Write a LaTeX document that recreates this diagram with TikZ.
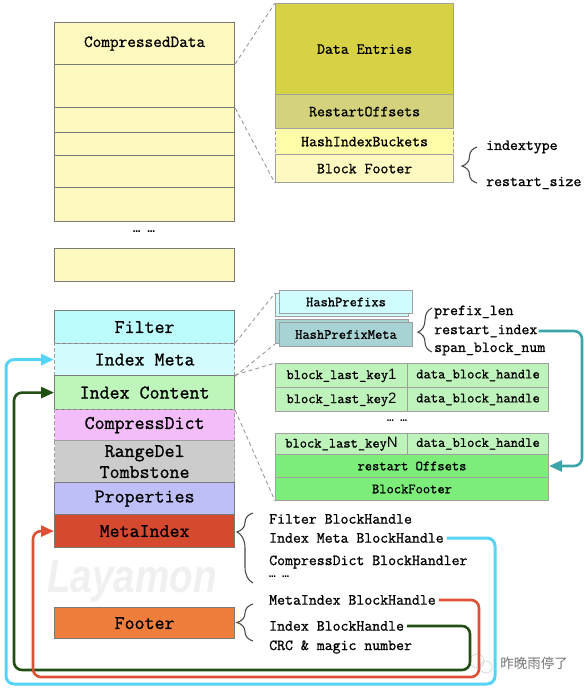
\documentclass[tikz,border=0pt]{standalone}
\usepackage{fontspec}
\setmainfont{Latin Modern Mono}
\newfontfamily\mono{Latin Modern Mono}[FakeBold=1.0]
\newfontfamily\lmono{Liberation Mono}
\newfontfamily\wsans{Liberation Sans}
\newfontfamily\cjk{Noto Sans CJK SC}
\usetikzlibrary{arrows.meta,decorations.pathreplacing}
\definecolor{cCD}{HTML}{FDF9BF}
\definecolor{cDE}{HTML}{D7D245}
\definecolor{cRO}{HTML}{D4D27C}
\definecolor{cHIB}{HTML}{FEFBA9}
\definecolor{cBF}{HTML}{FDF9C0}
\definecolor{cHP}{HTML}{CFFCFD}
\definecolor{cHPM}{HTML}{A8D3D5}
\definecolor{cKey}{HTML}{BFF3BC}
\definecolor{cRSO}{HTML}{7DED7A}
\definecolor{cFilter}{HTML}{BDFCFC}
\definecolor{cIM}{HTML}{D2FCFD}
\definecolor{cIC}{HTML}{BDF5BB}
\definecolor{cDict}{HTML}{F2BDF8}
\definecolor{cRD}{HTML}{CCCCCC}
\definecolor{cProp}{HTML}{BFBFF8}
\definecolor{cMI}{HTML}{D54A2F}
\definecolor{cFoot}{HTML}{EF7D3B}
\definecolor{lCyan}{HTML}{57D3F6}
\definecolor{lRed}{HTML}{DD5236}
\definecolor{lGreen}{HTML}{214E13}
\definecolor{lTeal}{HTML}{3DA5AA}
\definecolor{bDark}{HTML}{7A7A7A}
\definecolor{bLight}{HTML}{A0A0A0}
\definecolor{guide}{HTML}{9A9A9A}
\begin{document}
\begin{tikzpicture}[x=1pt,y=-1pt,
  lbox/.style={draw=bDark, line width=1.2pt, inner sep=0pt, anchor=north west,
    minimum width=180pt, font=\mono\fontsize{19.4}{21}\selectfont, align=center},
  cdbox/.style={draw=bDark, line width=1.2pt, inner sep=0pt, anchor=north west,
    minimum width=180pt, fill=cCD, font=\mono\fontsize{16.8}{18}\selectfont},
  tbox/.style={draw=bLight, line width=1.2pt, inner sep=0pt, anchor=north west,
    minimum width=178pt, font=\mono\fontsize{15.4}{17}\selectfont},
  mbox/.style={draw=bLight, line width=1pt, inner sep=0pt, anchor=north west,
    font=\mono\fontsize{14.1}{15}\selectfont},
  dashbox/.style={dashed, dash pattern=on 4pt off 2pt},
  lbl/.style={anchor=west, inner sep=3pt, font=\mono\fontsize{15.4}{17}\selectfont},
  slbl/.style={anchor=west, inner sep=1pt, font=\mono\fontsize{15.4}{17}\selectfont},
  guideline/.style={draw=guide, line width=0.9pt, dash pattern=on 4pt off 3pt},
  bracestyle/.style={draw=black!70, line width=1.1pt, decorate},
  conn/.style={line width=2.6pt, rounded corners=8pt},
  tip/.style={-{Triangle[length=13pt,width=11pt]}}
]
\useasboundingbox (0,0) rectangle (587,690);
% watermarks
\node[text=black!6, font=\wsans\bfseries\itshape\fontsize{47}{50}\selectfont, xscale=0.82] (wm) at (132,581) {Layamon};
\node[text=black!55, font=\cjk\fontsize{13.5}{15}\selectfont] (wm2) at (534,663) {昨晚雨停了};
\draw[black!15, line width=0.8pt] (477,661) circle (7pt) (486,667) circle (6pt);

% top-left column
\node[cdbox, minimum height=42pt] (cd0) at (54,22) {CompressedData};
\node[cdbox, minimum height=43pt] (cd1) at (54,64) {};
\node[cdbox, minimum height=25pt] (cd2) at (54,107) {};
\node[cdbox, minimum height=23pt] (cd3) at (54,132) {};
\node[cdbox, minimum height=32pt] (cd4) at (54,155) {};
\node[cdbox, minimum height=34pt] (cd5) at (54,187) {};
\node[font=\lmono\bfseries\fontsize{12}{14}\selectfont] (dots1) at (144,232) {… …};
\node[cdbox, minimum height=33pt] (cd6) at (54,248) {};

% top-right block
\node[tbox, fill=cDE, minimum height=91pt] (de) at (275,3) {Data Entries};
\node[tbox, fill=cRO, minimum height=34pt] (ro) at (275,94) {RestartOffsets};
\node[tbox, dashbox, fill=cHIB, minimum height=26pt] (hib) at (275,128) {HashIndexBuckets};
\node[tbox, fill=cBF, minimum height=28pt] (bft) at (275,154) {Block Footer};
\draw[guideline] (cd1.north east) -- (de.north west);
\draw[guideline] (cd1.south east) -- (bft.south west);
\draw[bracestyle, decoration={brace, amplitude=15pt, aspect=0.47}] (477,183) -- (477,147);
\node[slbl] (itype) at (485,147) {indextype};
\node[slbl] (rsize) at (485,183) {restart\_size};

% lower-left column
\node[lbox, fill=cFilter, minimum height=33pt] (filter) at (54,310) {Filter};
\node[lbox, dashbox, draw=bLight, fill=cIM, minimum height=32pt] (imeta) at (54,343) {Index Meta};
\node[lbox, fill=cIC, minimum height=34pt] (icont) at (54,375) {Index Content};
\node[lbox, dashbox, draw=bLight, fill=cDict, minimum height=31pt] (cdict) at (54,409) {CompressDict};
\node[lbox, dashbox, draw=bLight, fill=cRD, minimum height=42pt] (rdel) at (54,440) {RangeDel\\Tombstone};
\node[lbox, fill=cProp, minimum height=32pt] (props) at (54,482) {Properties};
\node[lbox, fill=cMI, minimum height=33pt] (mindex) at (54,514) {MetaIndex};
\node[lbox, fill=cFoot, minimum height=31pt] (footer) at (54,607) {Footer};

% middle-right block
\node[mbox, fill=cHP, minimum width=133pt, minimum height=23pt] (hpb) at (275,293) {};
\node[mbox, fill=cHP, minimum width=133pt, minimum height=23pt] (hp) at (279,290) {HashPrefixs};
\node[mbox, fill=cHPM, minimum width=133pt, minimum height=24pt] (hpmb) at (275,319) {};
\node[mbox, fill=cHPM, minimum width=133pt, minimum height=24pt] (hpm) at (279,322) {HashPrefixMeta};
\draw[bracestyle, decoration={brace, amplitude=14pt, aspect=0.45}] (432,352) -- (432,308);
\node[slbl] (plen) at (433,312) {prefix\_len};
\node[slbl] (rsi) at (433,331) {restart\_index};
\node[slbl] (sbn) at (433,349) {span\_block\_num};

\node[mbox, fill=cKey, minimum width=132pt, minimum height=24pt] (k1) at (275,363) {block\_last\_key{\wsans\fontsize{15}{15}\selectfont 1}};
\node[mbox, fill=cKey, minimum width=141pt, minimum height=24pt] (d1) at (407,363) {data\_block\_handle};
\node[mbox, fill=cKey, minimum width=132pt, minimum height=24pt] (k2) at (275,387) {block\_last\_key{\wsans\fontsize{15}{15}\selectfont 2}};
\node[mbox, fill=cKey, minimum width=141pt, minimum height=24pt] (d2) at (407,387) {data\_block\_handle};
\node[font=\lmono\bfseries\fontsize{11}{13}\selectfont] (dots2) at (397,421) {… …};
\node[mbox, fill=cKey, minimum width=132pt, minimum height=21pt] (kN) at (275,433) {block\_last\_key{\wsans\fontsize{15}{15}\selectfont N}};
\node[mbox, fill=cKey, minimum width=141pt, minimum height=21pt] (dN) at (407,433) {data\_block\_handle};
\node[mbox, fill=cRSO, minimum width=273pt, minimum height=23pt] (rso) at (275,454) {restart Offsets};
\node[mbox, fill=cRSO, minimum width=273pt, minimum height=23pt] (bfm) at (275,477) {BlockFooter};

\draw[guideline] (imeta.north east) -- (hpb.north west);
\draw[guideline] (imeta.south east) -- (hpmb.south west);
\draw[guideline] (icont.north east) -- (k1.north west);
\draw[guideline] (icont.south east) -- (bfm.south west);

% bottom labels
\draw[bracestyle, decoration={brace, amplitude=16pt, aspect=0.73}] (253,583) -- (253,513);
\node[lbl] (fbh) at (266,519) {Filter BlockHandle};
\node[lbl] (imbh) at (266,538) {Index Meta BlockHandle};
\node[lbl] (cdbh) at (266,562) {CompressDict BlockHandler};
\node[lbl, font=\lmono\bfseries\fontsize{11}{13}\selectfont] (dots3) at (266,577) {… …};
\draw[bracestyle, decoration={brace, amplitude=16pt, aspect=0.5}] (253,641) -- (253,604);
\node[lbl] (mibh) at (266,600) {MetaIndex BlockHandle};
\node[lbl] (ibh) at (266,626) {Index BlockHandle};
\node[lbl] (crc) at (266,647) {CRC \& magic number};

% connectors
\coordinate (tX) at (582,0);
\draw[conn, lTeal, tip] (rsi.east) -| (tX |- rso.east) -- (rso.east);
\coordinate (grR) at (470,670);
\coordinate (grL) at (14,670);
\draw[conn, lGreen, tip] (ibh.east) -| (grR) -- (grL) |- (icont.west);
\coordinate (reR) at (479,677);
\coordinate (reL) at (33,677);
\draw[conn, lRed, tip] (mibh.east) -| (reR) -- (reL) |- (mindex.west);
\coordinate (cyR) at (495,684);
\coordinate (cyL) at (6,684);
\draw[conn, lCyan, line width=3pt, tip] (imbh.east) -| (cyR) -- (cyL) |- (imeta.west);
\end{tikzpicture}
\end{document}
